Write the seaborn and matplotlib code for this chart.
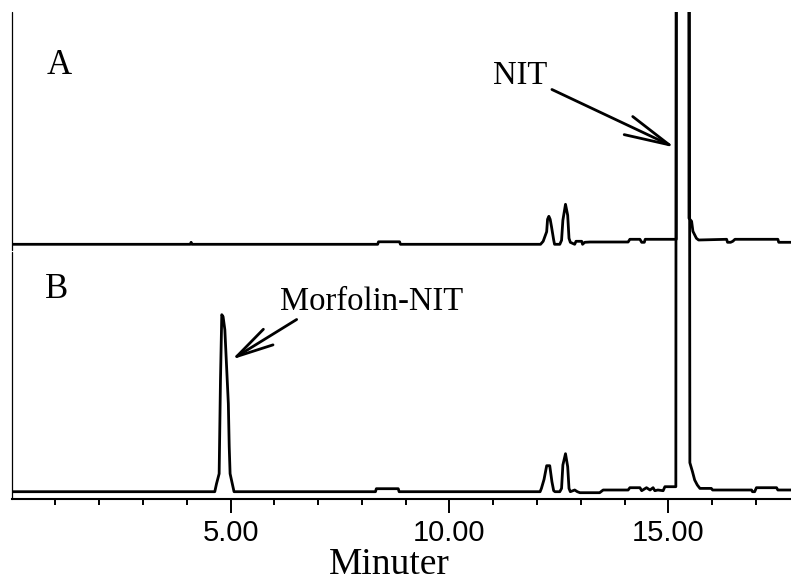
import numpy as np
import pandas as pd
import seaborn as sns
import matplotlib
matplotlib.use("Agg")
import matplotlib.pyplot as plt
from matplotlib.ticker import FixedLocator, FormatStrFormatter

# Chromatogram A (time in minutes, detector signal above its own baseline)
time_a = [0.0, 4.08, 4.10, 4.12, 8.36, 8.38, 8.86, 8.88, 12.08, 12.14, 12.22, 12.24,
          12.27, 12.30, 12.33, 12.38, 12.40, 12.52, 12.56, 12.59, 12.65, 12.70, 12.73,
          12.76, 12.86, 12.89, 13.02, 13.04, 13.09, 13.21, 14.08, 14.12, 14.35, 14.39,
          14.45, 14.47, 15.18, 15.21, 15.43, 15.47, 15.53, 15.56, 15.60, 15.64, 15.69,
          16.33, 16.35, 16.42, 16.47, 16.52, 17.50, 17.52, 17.80]
signal_a = [0, 0, 2, 0, 0, 2.5, 2.5, 0, 0, 3, 12.6, 25,
            28, 25, 17.7, 4.3, 0, 0, 4, 24, 40, 29, 6,
            2, 0, 3, 3, 0, 2, 2.3, 2.3, 5, 5, 2,
            2, 5, 5, 2500, 2500, 26, 23, 13, 9.5, 6, 4.3,
            5, 2, 2, 3, 5, 5, 2, 2]

# Chromatogram B
time_b = [0.0, 4.64, 4.68, 4.74, 4.77, 4.80, 4.83, 4.87, 4.95, 4.97, 4.99, 5.04, 5.08,
          8.31, 8.33, 8.83, 8.85, 12.07, 12.10, 12.16, 12.22, 12.29, 12.34, 12.38,
          12.41, 12.52, 12.56, 12.59, 12.65, 12.70, 12.73, 12.76, 12.86, 12.92, 12.98,
          13.43, 13.51, 14.08, 14.12, 14.35, 14.39, 14.50, 14.58, 14.65, 14.69, 14.76,
          14.88, 14.92, 15.17, 15.20, 15.44, 15.49, 15.55, 15.60, 15.66, 15.72, 15.98,
          16.01, 16.90, 16.92, 16.97, 17.01, 17.47, 17.50, 17.80]
signal_b = [0, 0, 8, 18, 111, 177, 175, 162, 88, 45, 18, 8, 0,
            0, 3, 3, 0, 0, 3.3, 12.3, 26, 26, 10, 1,
            0, 0, 3.3, 26.7, 38, 25, 3.3, 0, 1.7, 0, -1,
            -1, 1.7, 1.7, 4, 4, 1, 4, 1.7, 4, 1, 1.7,
            1, 5, 5, 2500, 2500, 29, 20, 11.7, 6.7, 3.3, 3.3,
            1.7, 1.7, 0, 0, 4, 4, 1.7, 1.7]

trace_labels = ["A", "B"]
peak_labels = ["NIT", "Morfolin-NIT"]
tick_values = [5, 10, 15]
minor_values = [m for m in range(1, 18) if m not in tick_values]

offset_a, offset_b = 254.2, 6.8

df = pd.concat([
    pd.DataFrame({"t": time_a, "y": np.array(signal_a) + offset_a, "trace": "A"}),
    pd.DataFrame({"t": time_b, "y": np.array(signal_b) + offset_b, "trace": "B"}),
])

sns.set_style("white")
plt.rcParams["font.family"] = ["Liberation Serif", "DejaVu Serif"]
plt.rcParams["text.color"] = "black"
plt.rcParams["axes.labelcolor"] = "black"
plt.rcParams["xtick.color"] = "black"
plt.rcParams["xtick.labelcolor"] = "black"

fig = plt.figure(figsize=(7.91, 5.85), dpi=100)
ax = fig.add_axes([11.6 / 791, 86.5 / 585, 779.4 / 791, 486.5 / 585])

sns.lineplot(data=df, x="t", y="y", hue="trace", palette=["black", "black"],
             estimator=None, sort=False, legend=False, linewidth=2.0, ax=ax)

ax.set_xlim(0, 17.8)
ax.set_ylim(0, 486.5)
ax.set_yticks([])
ax.set_ylabel("")

# split left axis: one piece per chromatogram
for sp in ["left", "top", "right"]:
    ax.spines[sp].set_visible(False)
ax.spines["bottom"].set_linewidth(1.5)
ax.spines["bottom"].set_color("black")
ax.axvline(0, ymin=0.511, ymax=1.0, color="black", lw=0.9, clip_on=False)
ax.axvline(0, ymin=0.0, ymax=0.507, color="black", lw=0.9, clip_on=False)

ax.xaxis.set_major_locator(FixedLocator(tick_values))
ax.xaxis.set_minor_locator(FixedLocator(minor_values))
ax.xaxis.set_major_formatter(FormatStrFormatter("%.2f"))
ax.tick_params(axis="x", which="major", direction="out", length=10, width=1.4,
               pad=5, labelsize=21, bottom=True, color="black",
               labelcolor="black", labelfontfamily="Liberation Sans")
ax.tick_params(axis="x", which="minor", direction="out", length=4.5, width=1.4,
               bottom=True, color="black")

ax.set_xlabel("Minuter", fontsize=27, color="black")
ax.xaxis.set_label_coords(0.485, -0.155)
ax.xaxis.label.set_va("baseline")

# panel letters
ax.text(0.81, 425, trace_labels[0], fontsize=25, va="baseline", ha="left", color="black")
ax.text(0.76, 201, trace_labels[1], fontsize=25, va="baseline", ha="left", color="black")

# peak labels with arrows
ax.text(10.99, 414, peak_labels[0], fontsize=23.5, va="baseline", ha="left", color="black")
ax.annotate("", xy=(15.15, 351), xytext=(12.34, 409),
            arrowprops=dict(arrowstyle="->,head_length=1.62,head_width=0.36",
                            mutation_scale=20, lw=2.0, color="black",
                            shrinkA=0, shrinkB=0))
ax.text(6.14, 189, peak_labels[1], fontsize=23.5, va="baseline", ha="left", color="black")
ax.annotate("", xy=(5.03, 139), xytext=(6.51, 179),
            arrowprops=dict(arrowstyle="->,head_length=1.33,head_width=0.33",
                            mutation_scale=20, lw=2.0, color="black",
                            shrinkA=0, shrinkB=0))

fig.savefig("out.png", dpi=100)
